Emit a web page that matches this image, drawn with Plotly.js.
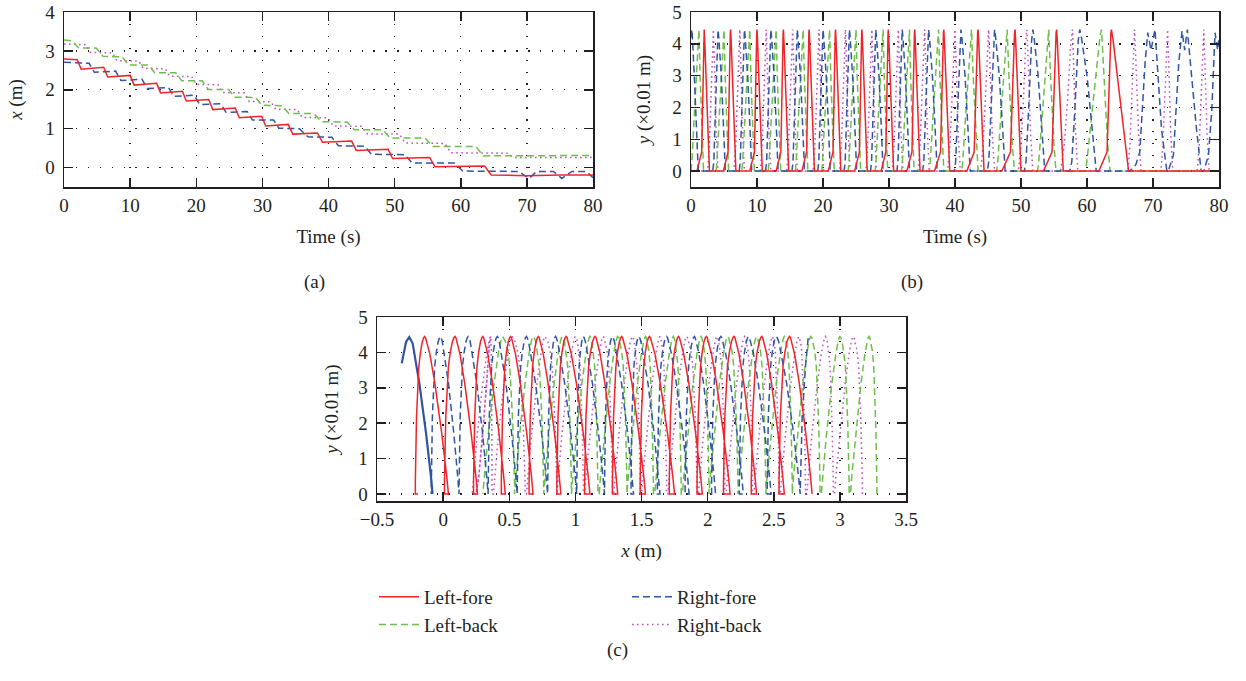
<!DOCTYPE html>
<html><head><meta charset="utf-8">
<script src="https://cdn.plot.ly/plotly-3.0.1.min.js"></script>
<style>html,body{margin:0;padding:0;background:#fff}#chart{width:1246px;height:681px}</style>
</head><body><div id="chart"></div>
<script>
// ================= DATA =================
// Panel (a): foot x position (m) vs time (s), break points of the stepping curves
const leftForeT  = [0, 2.0, 2.6, 6.0, 6.6, 10.0, 10.6, 14.0, 14.6, 17.9, 18.5, 21.9, 22.5, 25.9, 26.5, 29.9, 30.5, 33.9, 34.6, 38.3, 39.1, 43.5, 44.2, 49.0, 49.7, 55.3, 56.1, 63.6, 64.6, 70, 75, 80];
const leftForeX  = [2.79, 2.77, 2.53, 2.58, 2.33, 2.37, 2.12, 2.17, 1.92, 1.96, 1.71, 1.75, 1.49, 1.53, 1.28, 1.32, 1.07, 1.11, 0.86, 0.89, 0.65, 0.68, 0.44, 0.47, 0.23, 0.26, 0.02, 0.04, -0.19, -0.21, -0.19, -0.19];
const rightForeT = [0, 3.8, 4.6, 7.8, 8.6, 11.8, 12.6, 15.8, 16.6, 19.7, 20.5, 23.7, 24.5, 27.7, 28.5, 31.7, 32.5, 35.6, 36.9, 40.5, 41.5, 45.5, 46.5, 51.6, 52.6, 59.0, 60.3, 68.8, 70.3, 71.5, 74.0, 75.3, 76.8, 79.0, 80];
const rightForeX = [2.71, 2.68, 2.45, 2.48, 2.24, 2.27, 2.03, 2.06, 1.83, 1.86, 1.62, 1.64, 1.42, 1.44, 1.22, 1.22, 1.01, 1.00, 0.79, 0.78, 0.56, 0.55, 0.34, 0.33, 0.12, 0.12, -0.09, -0.10, -0.28, -0.10, -0.10, -0.28, -0.10, -0.10, -0.26];
const leftBackT  = [0, 1.2, 2.2, 4.9, 5.9, 8.8, 9.7, 12.8, 13.7, 16.9, 17.8, 20.9, 21.8, 24.9, 25.8, 29.0, 29.9, 33.0, 34.0, 37.8, 38.9, 42.8, 43.9, 48.2, 49.3, 54.6, 55.8, 62.3, 63.4, 80];
const leftBackX  = [3.28, 3.26, 3.08, 3.07, 2.86, 2.85, 2.64, 2.64, 2.44, 2.44, 2.23, 2.23, 2.01, 2.01, 1.81, 1.80, 1.60, 1.59, 1.39, 1.39, 1.18, 1.17, 0.97, 0.97, 0.76, 0.76, 0.54, 0.54, 0.30, 0.31];
const rightBackT = [0, 3.3, 4.0, 7.3, 8.0, 11.3, 12.0, 15.3, 16.0, 19.3, 20.0, 23.3, 24.0, 27.3, 28.0, 31.3, 32.0, 35.3, 36.0, 39.9, 40.7, 45.0, 45.9, 50.7, 51.6, 57.6, 58.5, 67.0, 68.0, 80];
const rightBackX = [3.18, 3.16, 2.96, 2.95, 2.75, 2.74, 2.55, 2.54, 2.35, 2.34, 2.14, 2.13, 1.93, 1.92, 1.70, 1.69, 1.50, 1.49, 1.29, 1.28, 1.07, 1.06, 0.86, 0.86, 0.63, 0.62, 0.38, 0.37, 0.26, 0.26];

// Panel (b): swing phases, time (s) of lift-off, top and touch-down
const leftForeLift = [0.9, 4.9, 8.9, 12.9, 16.8, 20.8, 24.8, 28.8, 32.7, 36.9, 41.8, 47.1, 53.4, 61.8];
const leftForePeak = [2.0, 6.0, 10.0, 14.0, 17.9, 21.9, 25.9, 29.9, 33.9, 38.3, 43.5, 49.1, 55.4, 63.7];
const leftForeLand = [2.8, 6.8, 10.8, 14.8, 18.7, 22.7, 26.7, 30.7, 34.7, 39.2, 44.4, 50.0, 56.4, 66.3];
const leftBackLift = [0.0, 3.8, 7.7, 11.7, 15.8, 19.8, 23.8, 27.9, 31.9, 36.1, 41.0, 46.3, 52.5, 59.7];
const leftBackPeak = [1.2, 5.0, 8.9, 12.9, 17.0, 21.0, 25.0, 29.1, 33.1, 37.5, 42.5, 47.9, 54.2, 62.2];
const leftBackLand = [1.9, 5.7, 9.6, 13.6, 17.7, 21.7, 25.7, 29.8, 33.8, 38.3, 43.5, 49.0, 55.3, 63.5];
const rightForeLift = [3.3, 7.3, 11.3, 15.3, 19.2, 23.2, 27.2, 31.2, 35.1, 39.9, 44.9, 50.5, 57.4];
const rightForePeak = [4.1, 8.1, 12.1, 16.1, 20.0, 24.0, 28.0, 32.0, 36.0, 40.9, 46.0, 51.8, 58.9];
const rightForeLand = [5.2, 9.2, 13.2, 17.2, 21.1, 25.1, 29.1, 33.1, 37.3, 42.3, 47.6, 53.6, 61.4];
const rightForeHeadT = [0, 0.15, 0.5, 1.1];
const rightForeHeadY = [4.2, 4.45, 3.0, 0];
const rightForeTailT = [66.5, 67.4, 68.0, 68.8, 69.2, 69.7, 70.3, 70.8, 71.3, 72.1, 72.3, 73.1, 73.9, 74.4, 74.8, 75.2, 75.9, 76.6, 77.3, 77.7, 78.4, 78.9, 79.4, 79.8, 80.0];
const rightForeTailY = [0, 0.2, 0.6, 3.4, 4.35, 3.8, 4.45, 2.8, 1.3, 0, 0, 0.5, 3.4, 4.4, 3.8, 4.45, 2.8, 1.3, 0, 0, 0.5, 1.9, 4.35, 3.8, 4.2];
const rightBackLift = [2.5, 6.5, 10.5, 14.5, 18.5, 22.5, 26.5, 30.5, 34.4, 38.9, 43.9, 49.6, 56.0, 66.2, 71.2, 76.7];
const rightBackPeak = [3.4, 7.4, 11.4, 15.4, 19.4, 23.4, 27.4, 31.4, 35.4, 40.0, 45.1, 50.9, 57.8, 67.2, 72.2, 77.7];
const rightBackLand = [4.1, 8.1, 12.1, 16.1, 20.1, 24.1, 28.1, 32.1, 36.1, 40.8, 46.0, 51.8, 58.6, 68.2, 73.0, 78.5];

// Panel (c): swing arcs in the x–y plane, x (m) of lift-off, top and touch-down
const leftForeStartX = [2.79, 2.58, 2.37, 2.17, 1.96, 1.75, 1.53, 1.32, 1.11, 0.89, 0.68, 0.47, 0.26, 0.04];
const leftForeTopX   = [2.62, 2.41, 2.20, 1.99, 1.78, 1.56, 1.35, 1.15, 0.93, 0.72, 0.51, 0.30, 0.09, -0.14];
const leftForeEndX   = [2.54, 2.33, 2.12, 1.92, 1.71, 1.49, 1.28, 1.07, 0.86, 0.65, 0.44, 0.23, 0.01, -0.21];
const leftForeRestX  = [-0.19];
const rightForeStartX = [2.70, 2.48, 2.27, 2.06, 1.86, 1.64, 1.44, 1.22, 1.01, 0.79, 0.56, 0.34, 0.12];
const rightForeTopX   = [2.52, 2.31, 2.10, 1.90, 1.69, 1.48, 1.28, 1.06, 0.85, 0.63, 0.41, 0.19, -0.02];
const rightForeEndX   = [2.45, 2.24, 2.03, 1.83, 1.62, 1.42, 1.22, 1.01, 0.79, 0.56, 0.34, 0.12, -0.09];
const rightForeHeadCX = [2.76, 2.74, 2.715, 2.70, 2.70];
const rightForeHeadCY = [4.4, 3.6, 2.18, 0.35, 0];
const rightForeTailCX = [-0.08, -0.092, -0.129, -0.180, -0.230, -0.256, -0.28, -0.313, -0.28, -0.256, -0.230, -0.180, -0.129, -0.092, -0.08, -0.092, -0.129, -0.180, -0.230, -0.256, -0.28, -0.313, -0.28, -0.256, -0.230, -0.180, -0.129, -0.092, -0.08, -0.092, -0.129, -0.180, -0.230, -0.256, -0.28, -0.313];
const rightForeTailCY = [0, 0.49, 1.71, 3.13, 4.25, 4.43, 4.3, 3.69, 4.3, 4.43, 4.25, 3.13, 1.71, 0.49, 0, 0.49, 1.71, 3.13, 4.25, 4.43, 4.3, 3.69, 4.3, 4.43, 4.25, 3.13, 1.71, 0.49, 0, 0.49, 1.71, 3.13, 4.25, 4.43, 4.3, 3.69];
const leftBackStartX = [3.28, 3.07, 2.85, 2.64, 2.44, 2.23, 2.01, 1.80, 1.59, 1.39, 1.17, 0.97, 0.76, 0.54];
const leftBackTopX   = [3.22, 3.00, 2.78, 2.58, 2.37, 2.15, 1.95, 1.74, 1.53, 1.32, 1.11, 0.90, 0.68, 0.45];
const leftBackEndX   = [3.08, 2.86, 2.64, 2.44, 2.23, 2.01, 1.81, 1.60, 1.39, 1.18, 0.97, 0.76, 0.54, 0.30];
const rightBackStartX = [3.17, 2.95, 2.74, 2.54, 2.34, 2.13, 1.92, 1.69, 1.49, 1.28, 1.06, 0.86, 0.62, 0.37];
const rightBackTopX   = [3.10, 2.89, 2.69, 2.49, 2.28, 2.07, 1.84, 1.64, 1.43, 1.21, 1.00, 0.77, 0.52, 0.36];
const rightBackEndX   = [2.96, 2.75, 2.55, 2.35, 2.14, 1.93, 1.70, 1.50, 1.29, 1.07, 0.86, 0.63, 0.38, 0.22];
const rightBackTailCX = [0.25, 0.27, 0.30, 0.33, 0.35, 0.36, 0.35, 0.33, 0.30, 0.27, 0.25, 0.27, 0.30, 0.33, 0.35, 0.36, 0.35, 0.33, 0.30, 0.27, 0.25];
const rightBackTailCY = [0, 0.49, 1.71, 3.13, 4.25, 4.45, 4.25, 3.13, 1.71, 0.49, 0, 0.49, 1.71, 3.13, 4.25, 4.45, 4.25, 3.13, 1.71, 0.49, 0];

const seriesNames = ['Left-fore', 'Left-back', 'Right-fore', 'Right-back'];
const tickValsA = [0, 1, 2, 3, 4];

// ================= STYLE =================
const FONT = 'Liberation Serif, Times New Roman, serif';
const INK = '#231f20';
const C_LF = '#f0242a', C_LB = '#6cc04a', C_RF = '#2f55a4', C_RB = '#c34fc4';
const D_LF = 'solid', D_DASH = '7px,4px', D_DOT = '1.6px,3.4px';

// swing profile templates (shape of one swing)
const RISE_LF = {f: [0, 0.65, 0.96, 1], y: [0, 0.6, 4.35, 4.45]};
const FALL_LF = {f: [0, 0.1, 1], y: [4.45, 4.1, 0]};
const RISE_LB = {f: [0, 0.1, 0.37, 0.67, 0.9, 1], y: [0, 0.24, 1.56, 3.0, 4.2, 4.45]};
const FALL_LB = {f: [0, 0.25, 0.7, 1], y: [4.45, 3.0, 0.9, 0]};
const RISE_RF = {f: [0, 0.2, 0.5, 0.85, 1], y: [0, 0.3, 1.9, 4.1, 4.45]};
const FALL_RF = {f: [0, 0.1, 0.44, 0.72, 0.92, 1], y: [4.45, 4.2, 3.0, 1.56, 0.4, 0]};
const RISE_RB = {f: [0, 0.3, 0.6, 0.85, 1], y: [0, 0.8, 2.3, 4.0, 4.45]};
const FALL_RB = {f: [0, 0.2, 0.6, 1], y: [4.45, 3.5, 1.2, 0]};

function pulses(lift, peak, land, rise, fall) {
  const t = [], y = [];
  for (let i = 0; i < peak.length; i++) {
    rise.f.forEach((f, k) => { t.push(lift[i] + f * (peak[i] - lift[i])); y.push(rise.y[k]); });
    fall.f.forEach((f, k) => { if (k > 0) { t.push(peak[i] + f * (land[i] - peak[i])); y.push(fall.y[k]); } });
  }
  return {t, y};
}

// arc templates for panel (c): rounded tops
const FORE_UP = {f: [1, 0.93, 0.72, 0.43, 0.22, 0.1, 0.04, 0], y: [0, 0.49, 1.71, 3.13, 3.95, 4.3, 4.41, 4.45]};
const FORE_DN = {f: [0.1, 0.25, 0.45, 0.625, 0.875, 1, 1], y: [4.42, 4.3, 4.0, 3.6, 2.18, 0.35, 0]};
const BACK_UP = {f: [1, 1, 0.85, 0.6, 0.42, 0.25, 0.1, 0], y: [0, 0.3, 2.0, 3.6, 4.05, 4.3, 4.42, 4.45]};
const BACK_DN = {f: [0.04, 0.1, 0.22, 0.43, 0.72, 0.93, 1], y: [4.41, 4.3, 3.95, 3.13, 1.71, 0.49, 0]};

function arcs(s, p, e, up, dn) {
  const x = [], y = [];
  for (let i = 0; i < p.length; i++) {
    up.f.forEach((f, k) => { x.push(p[i] + f * (s[i] - p[i])); y.push(up.y[k]); });
    dn.f.forEach((f, k) => { x.push(p[i] - f * (p[i] - e[i])); y.push(dn.y[k]); });
  }
  return {x, y};
}

// ---- panel (b) series
const bLF = pulses(leftForeLift, leftForePeak, leftForeLand, RISE_LF, FALL_LF);
const bLB = pulses(leftBackLift, leftBackPeak, leftBackLand, RISE_LB, FALL_LB);
const bRFmain = pulses(rightForeLift, rightForePeak, rightForeLand, RISE_RF, FALL_RF);
const bRB = pulses(rightBackLift, rightBackPeak, rightBackLand, RISE_RB, FALL_RB);
const bLFt = [0].concat(bLF.t, [80]), bLFy = [0].concat(bLF.y, [0]);
const bLBt = bLB.t.concat([80]), bLBy = bLB.y.concat([0]);
const bRFt = rightForeHeadT.concat(bRFmain.t, rightForeTailT), bRFy = rightForeHeadY.concat(bRFmain.y, rightForeTailY);
const bRBt = [0].concat(bRB.t, [80]), bRBy = [0].concat(bRB.y, [0]);

// ---- panel (c) series
const cLF = arcs(leftForeStartX, leftForeTopX, leftForeEndX, FORE_UP, FORE_DN);
const cRF = arcs(rightForeStartX, rightForeTopX, rightForeEndX, FORE_UP, FORE_DN);
const cLB = arcs(leftBackStartX, leftBackTopX, leftBackEndX, BACK_UP, BACK_DN);
const cRB = arcs(rightBackStartX, rightBackTopX, rightBackEndX, BACK_UP, BACK_DN);

function line(x, y, color, dash, xa, ya, extra) {
  return Object.assign({type: 'scatter', mode: 'lines', x, y, xaxis: xa, yaxis: ya,
    line: {color, dash, width: 1.5}, showlegend: false, hoverinfo: 'skip'}, extra || {});
}

const traces = [
  // Right-back (dotted magenta)
  line(rightBackT, rightBackX, C_RB, D_DOT, 'x', 'y', {name: seriesNames[3], showlegend: true, legend: 'legend2', legendrank: 2}),
  line(bRBt, bRBy, C_RB, D_DOT, 'x2', 'y2'),
  line(cRB.x.concat(rightBackTailCX), cRB.y.concat(rightBackTailCY), C_RB, D_DOT, 'x3', 'y3'),
  // Left-back (dashed green)
  line(leftBackT, leftBackX, C_LB, D_DASH, 'x', 'y', {name: seriesNames[1], showlegend: true, legend: 'legend', legendrank: 2}),
  line(bLBt, bLBy, C_LB, D_DASH, 'x2', 'y2'),
  line(cLB.x, cLB.y, C_LB, D_DASH, 'x3', 'y3'),
  // Right-fore (dashed blue)
  line(rightForeT, rightForeX, C_RF, D_DASH, 'x', 'y', {name: seriesNames[2], showlegend: true, legend: 'legend2', legendrank: 1}),
  line(bRFt, bRFy, C_RF, D_DASH, 'x2', 'y2'),
  line(rightForeHeadCX.concat(cRF.x), rightForeHeadCY.concat(cRF.y), C_RF, D_DASH, 'x3', 'y3'),
  line(rightForeTailCX, rightForeTailCY, C_RF, 'solid', 'x3', 'y3', {line: {color: C_RF, width: 2.2}}),
  // Left-fore (solid red)
  line(leftForeT, leftForeX, C_LF, D_LF, 'x', 'y', {name: seriesNames[0], showlegend: true, legend: 'legend', legendrank: 1}),
  line(bLFt, bLFy, C_LF, D_LF, 'x2', 'y2'),
  line(cLF.x.concat(leftForeRestX), cLF.y.concat([0]), C_LF, D_LF, 'x3', 'y3')
];

function axis(o) {
  return Object.assign({
    showline: true, mirror: 'ticks', linecolor: INK, linewidth: 1.5,
    ticks: 'inside', ticklen: 9, tickwidth: 1.5, tickcolor: INK,
    showgrid: true, gridcolor: INK, gridwidth: 1.4, griddash: '1.4px,10.5px',
    zeroline: false, fixedrange: true, tickfont: {family: FONT, size: 19, color: INK},
    automargin: false, ticklabeloverflow: 'allow'
  }, o);
}
const W = 1246, H = 681;
const px = v => v / W, py = v => 1 - v / H;
const titleFont = {family: FONT, size: 19, color: INK};
const TOP = 12, BOT = 187;   // top row plot area (px from top)

const layout = {
  width: W, height: H, margin: {l: 0, r: 0, t: 0, b: 0},
  paper_bgcolor: '#fff', plot_bgcolor: '#fff',
  font: {family: FONT, size: 19, color: INK},
  xaxis: axis({domain: [px(64), px(593)], anchor: 'y', range: [0, 80], tick0: 0, dtick: 10, ticklabelstandoff: 1,
    title: {text: 'Time (s)', font: titleFont, standoff: 14}}),
  yaxis: axis({domain: [py(BOT), py(TOP)], anchor: 'x', range: [-0.5, 4], tickmode: 'array', tickvals: tickValsA, ticklabelstandoff: 4,
    title: {text: '<i>x</i> (m)', font: titleFont, standoff: 17}}),
  xaxis2: axis({domain: [px(691), px(1219)], anchor: 'y2', range: [0, 80], tick0: 0, dtick: 10, ticklabelstandoff: 1,
    title: {text: 'Time (s)', font: titleFont, standoff: 14}}),
  yaxis2: axis({domain: [py(BOT), py(TOP)], anchor: 'x2', range: [-0.5, 5], tick0: 0, dtick: 1, ticklabelstandoff: 4,
    title: {text: '<i>y</i> (×0.01 m)', font: titleFont, standoff: 16}}),
  xaxis3: axis({domain: [px(377), px(906)], anchor: 'y3', range: [-0.5, 3.5], tick0: 0, dtick: 0.5, ticklabelstandoff: 1,
    title: {text: '<i>x</i> (m)', font: titleFont, standoff: 14}}),
  yaxis3: axis({domain: [py(501), py(317)], anchor: 'x3', range: [-0.2, 5], tick0: 0, dtick: 1, ticklabelstandoff: 4,
    title: {text: '<i>y</i> (×0.01 m)', font: titleFont, standoff: 14}}),
  showlegend: true,
  legend: {x: px(374), y: py(578), xanchor: 'left', yanchor: 'top', bgcolor: 'rgba(0,0,0,0)',
    font: {family: FONT, size: 19, color: INK}, itemwidth: 40, traceorder: 'normal'},
  legend2: {x: px(627), y: py(578), xanchor: 'left', yanchor: 'top', bgcolor: 'rgba(0,0,0,0)',
    font: {family: FONT, size: 19, color: INK}, itemwidth: 40, traceorder: 'normal'},
  annotations: [
    {text: '(a)', x: px(302), y: py(282), xref: 'paper', yref: 'paper', showarrow: false, font: titleFont},
    {text: '(b)', x: px(925), y: py(282), xref: 'paper', yref: 'paper', showarrow: false, font: titleFont},
    {text: '(c)', x: px(617), y: py(663), xref: 'paper', yref: 'paper', showarrow: false, font: titleFont}
  ]
};

Plotly.newPlot('chart', traces, layout, {displayModeBar: false, staticPlot: true});
</script>
</body></html>
